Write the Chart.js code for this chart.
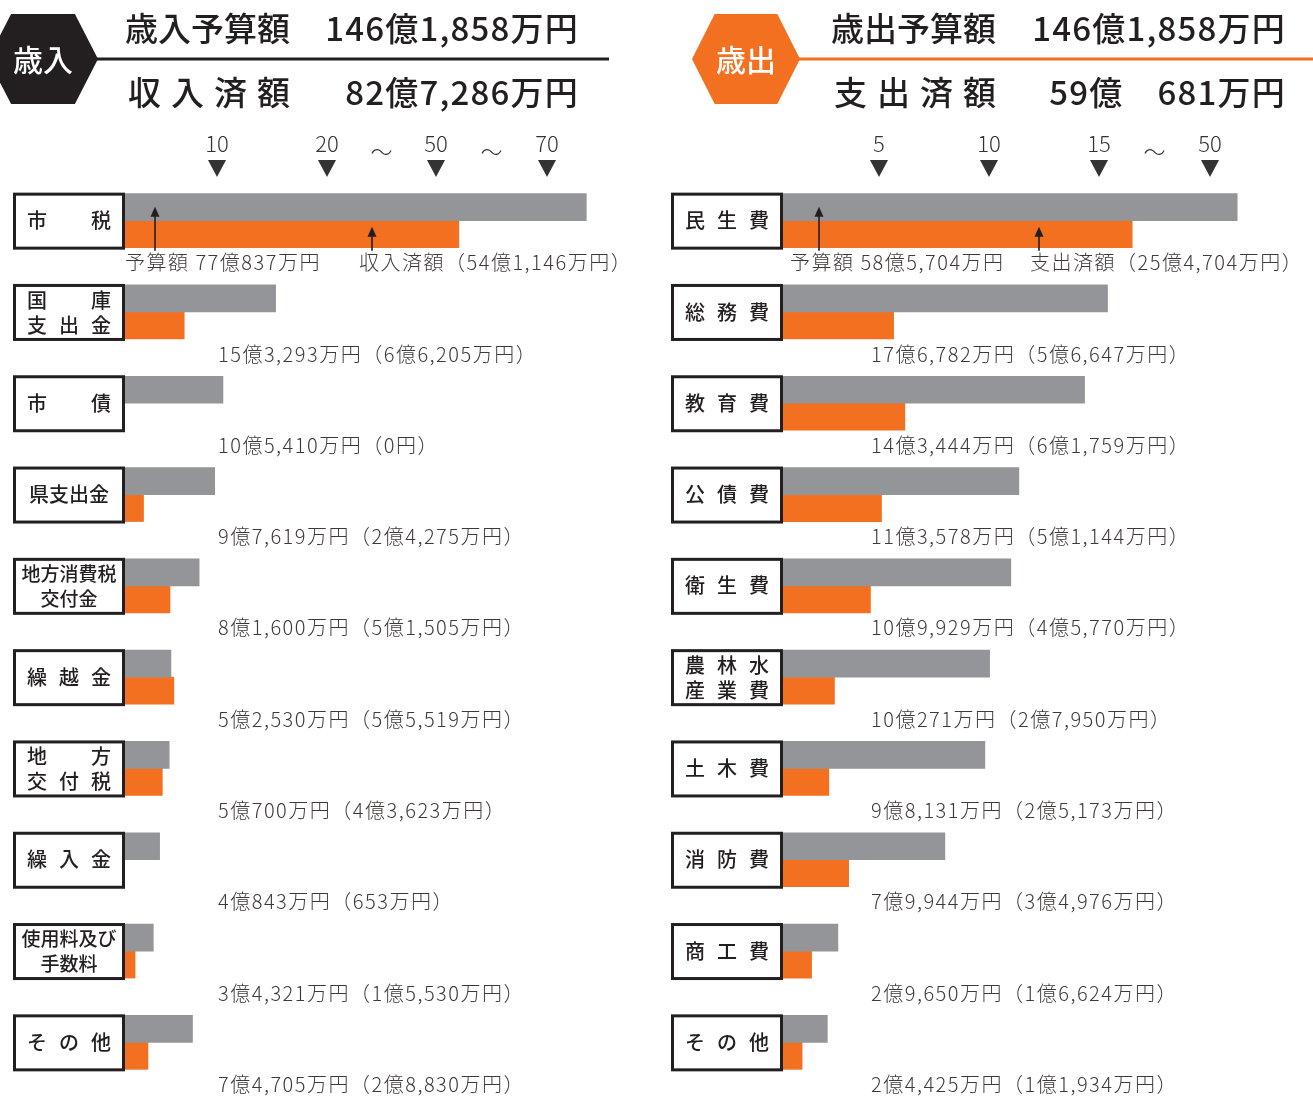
<!DOCTYPE html>
<html lang="ja">
<head>
<meta charset="utf-8">
<script src="https://cdn.jsdelivr.net/npm/chart.js@4.4.1/dist/chart.umd.min.js"></script>
<style>
  body { margin: 0; background: #fff; }
  #wrap { position: relative; width: 1313px; height: 1099px; overflow: hidden; }
  canvas { position: absolute; top: 0; }
</style>
</head>
<body>
<div id="wrap">
  <canvas id="revChart" width="656" height="1099" style="left:0"></canvas>
  <canvas id="expChart" width="655" height="1099" style="left:658px"></canvas>
</div>
<script>
// 金額は万円単位
const revCategories = ["市税", "国庫\n支出金", "市債", "県支出金", "地方消費税\n交付金", "繰越金", "地方\n交付税", "繰入金", "使用料及び\n手数料", "その他"];
const revBudget = [770837, 153293, 105410, 97619, 81600, 52530, 50700, 40843, 34321, 74705];
const revDone = [541146, 66205, 0, 24275, 51505, 55519, 43623, 653, 15530, 28830];
const revTicks = [100000, 200000, 500000, 700000];
const revTickLabels = ["10", "20", "50", "70"];
const revTotals = [1461858, 827286];

const expCategories = ["民生費", "総務費", "教育費", "公債費", "衛生費", "農林水\n産業費", "土木費", "消防費", "商工費", "その他"];
const expBudget = [585704, 176782, 143444, 113578, 109929, 100271, 98131, 79944, 29650, 24425];
const expDone = [254704, 56647, 61759, 51144, 45770, 27950, 25173, 34976, 16624, 11934];
const expTicks = [50000, 100000, 150000, 500000];
const expTickLabels = ["5", "10", "15", "50"];
const expTotals = [1461858, 590681];

const GRAY = "#939598";
const ORANGE = "#f37021";
const INK = "#231f20";
const TEXT = "#3e3a39";
const FONT = '"Noto Sans CJK JP", "Noto Sans", sans-serif';

function yen(v) {
  const oku = Math.floor(v / 10000), man = v % 10000;
  if (!oku && !man) return "0円";
  return (oku ? oku + "億" : "") + (man ? man.toLocaleString("en-US") + "万" : "") + "円";
}

function totalText(v) {
  const oku = Math.floor(v / 10000), man = v % 10000;
  const pad = oku && man < 1000 ? "　" : "";
  return oku + "億" + pad + man.toLocaleString("en-US") + "万円";
}

// 途中を省略した横軸
class BrokenScale extends Chart.LinearScale {
  stops() {
    return [[0, ...this.options.breakValues], [this.options.zeroOffset, ...this.options.breakOffsets]];
  }
  getPixelForValue(value) {
    if (value === null || value === undefined || isNaN(value)) return NaN;
    const [vals, offs] = this.stops();
    let i = 1;
    while (i < vals.length - 1 && value > vals[i]) i++;
    const t = (value - vals[i - 1]) / (vals[i] - vals[i - 1]);
    return this.left + offs[i - 1] + t * (offs[i] - offs[i - 1]);
  }
  getValueForPixel(pixel) {
    const [vals, offs] = this.stops();
    const p = pixel - this.left;
    let i = 1;
    while (i < offs.length - 1 && p > offs[i]) i++;
    const t = (p - offs[i - 1]) / (offs[i] - offs[i - 1]);
    return vals[i - 1] + t * (vals[i] - vals[i - 1]);
  }
}
BrokenScale.id = "broken";
BrokenScale.defaults = Chart.LinearScale.defaults;
Chart.register(BrokenScale);

function spreadText(ctx, text, x0, x1, y) {
  const chars = [...text];
  const w = ctx.measureText(chars[0]).width;
  const step = chars.length > 1 ? (x1 - x0 - w) / (chars.length - 1) : 0;
  ctx.textAlign = "center";
  chars.forEach((c, i) => ctx.fillText(c, x0 + w / 2 + i * step, y));
}

function drawBoxLabel(ctx, label, left, right, cy) {
  const lines = label.split("\n");
  const spread = lines.every(l => l.length <= 3);
  ctx.fillStyle = INK;
  ctx.textBaseline = "middle";
  const ys = lines.length === 1 ? [cy] : [cy - 12, cy + 13];
  lines.forEach((line, k) => {
    if (spread) {
      ctx.font = "500 20px " + FONT;
      spreadText(ctx, line, left + 14, right - 14, ys[k]);
    } else {
      ctx.font = "500 " + (lines.length === 1 ? 20 : 19) + "px " + FONT;
      ctx.textAlign = "center";
      ctx.fillText(line, (left + right) / 2, ys[k]);
    }
  });
}

function arrowUp(ctx, x, yTop, yBottom) {
  ctx.strokeStyle = INK;
  ctx.fillStyle = INK;
  ctx.lineWidth = 1.6;
  ctx.beginPath();
  ctx.moveTo(x, yBottom);
  ctx.lineTo(x, yTop + 6);
  ctx.stroke();
  ctx.beginPath();
  ctx.moveTo(x, yTop);
  ctx.lineTo(x - 4.5, yTop + 10);
  ctx.lineTo(x + 4.5, yTop + 10);
  ctx.closePath();
  ctx.fill();
}

function panelPlugin(p) {
  return {
    id: "panel_" + p.canvas,
    afterDraw(chart) {
      const ctx = chart.ctx, xs = chart.scales.x, ys = chart.scales.y, area = chart.chartArea;
      ctx.save();

      // 見出し
      const cy = 59, hh = 45, inset = (p.hexRight - p.hexLeft) * 0.21;
      ctx.fillStyle = p.color;
      ctx.beginPath();
      ctx.moveTo(p.hexLeft, cy);
      ctx.lineTo(p.hexLeft + inset, cy - hh);
      ctx.lineTo(p.hexRight - inset, cy - hh);
      ctx.lineTo(p.hexRight, cy);
      ctx.lineTo(p.hexRight - inset, cy + hh);
      ctx.lineTo(p.hexLeft + inset, cy + hh);
      ctx.closePath();
      ctx.fill();
      ctx.fillRect(p.hexRight - 2, cy - 1.5, p.lineEnd - p.hexRight + 2, 3);
      ctx.fillStyle = "#fff";
      ctx.font = "500 30px " + FONT;
      ctx.textAlign = "center";
      ctx.textBaseline = "middle";
      ctx.fillText(p.badge, (p.hexLeft + p.hexRight) / 2, cy + 1);

      ctx.fillStyle = INK;
      ctx.font = "500 33px " + FONT;
      ctx.textAlign = "left";
      ctx.fillText(p.titles[0], p.textLeft, 28);
      spreadText(ctx, p.titles[1], p.textLeft + 3, p.textLeft + 165, 92);
      ctx.textAlign = "right";
      ctx.letterSpacing = "1.2px";
      ctx.fillText(totalText(p.totals[0]), p.textRight + 1, 28);
      ctx.fillText(totalText(p.totals[1]), p.textRight + 1, 92);
      ctx.letterSpacing = "0px";

      // 目盛り
      ctx.fillStyle = "#333";
      ctx.font = "300 22px " + FONT;
      ctx.textAlign = "center";
      p.ticks.forEach((v, i) => {
        const px = xs.getPixelForValue(v);
        ctx.fillText(p.tickLabels[i], px, 144);
        ctx.beginPath();
        ctx.moveTo(px - 9, 160);
        ctx.lineTo(px + 9, 160);
        ctx.lineTo(px, 177);
        ctx.closePath();
        ctx.fill();
        if (i > 0 && v - p.ticks[i - 1] > p.ticks[0]) {
          const mid = (px + xs.getPixelForValue(p.ticks[i - 1])) / 2;
          ctx.fillText("～", mid, 152);
        }
      });

      // 項目の枠と金額
      chart.data.labels.forEach((label, i) => {
        const rc = ys.getPixelForValue(i);
        const left = area.left - 112;
        ctx.fillStyle = "#fff";
        ctx.fillRect(left, rc - 28, 112, 57);
        ctx.strokeStyle = INK;
        ctx.lineWidth = 3;
        ctx.strokeRect(left + 1.5, rc - 26.5, 109, 54);
        drawBoxLabel(ctx, label, left, area.left, rc);

        ctx.fillStyle = TEXT;
        ctx.font = "300 20px " + FONT;
        ctx.textAlign = "left";
        ctx.textBaseline = "middle";
        ctx.letterSpacing = "1.5px";
        if (i === 0) {
          const f = p.firstRow;
          ctx.fillText("予算額 " + yen(p.budget[0]), area.left + f.budgetX, rc + 42);
          ctx.fillText(p.doneWord + "（" + yen(p.done[0]) + "）", area.left + f.doneX, rc + 42);
          arrowUp(ctx, area.left + f.arrow1, rc - 14, rc + 30);
          arrowUp(ctx, area.left + f.arrow2, rc + 6, rc + 30);
        } else {
          ctx.fillText(yen(p.budget[i]) + "（" + yen(p.done[i]) + "）", area.left + p.valueX, rc + 42);
        }
        ctx.letterSpacing = "0px";
      });
      ctx.restore();
    }
  };
}

const panels = [
  {
    canvas: "revChart", badge: "歳入", color: INK,
    hexLeft: -12, hexRight: 98, lineEnd: 609, textLeft: 125, textRight: 578,
    titles: ["歳入予算額", "収入済額"], totals: revTotals, doneWord: "収入済額",
    categories: revCategories, budget: revBudget, done: revDone,
    ticks: revTicks, tickLabels: revTickLabels, tickOffsets: [92, 202, 311, 422],
    firstRow: { budgetX: 0, doneX: 234, arrow1: 30, arrow2: 247 }, valueX: 93
  },
  {
    canvas: "expChart", badge: "歳出", color: ORANGE,
    hexLeft: 34, hexRight: 142, lineEnd: 655, textLeft: 173, textRight: 627,
    titles: ["歳出予算額", "支出済額"], totals: expTotals, doneWord: "支出済額",
    categories: expCategories, budget: expBudget, done: expDone,
    ticks: expTicks, tickLabels: expTickLabels, tickOffsets: [96, 206, 316, 427],
    firstRow: { budgetX: 7, doneX: 247, arrow1: 36, arrow2: 256 }, valueX: 88
  }
];

panels.forEach(p => {
  new Chart(document.getElementById(p.canvas), {
    type: "bar",
    data: {
      labels: p.categories,
      datasets: [
        { label: "予算額", data: p.budget, backgroundColor: GRAY, barThickness: 27 },
        { label: p.doneWord, data: p.done, backgroundColor: ORANGE, barThickness: 27 }
      ]
    },
    options: {
      indexAxis: "y",
      responsive: false,
      animation: false,
      layout: { padding: { left: 125, right: 10, top: 175, bottom: 11 } },
      scales: {
        x: {
          type: "broken", min: 0, max: p.ticks[p.ticks.length - 1] * 1.2, display: false,
          zeroOffset: -5, breakValues: p.ticks, breakOffsets: p.tickOffsets
        },
        y: { display: false }
      },
      plugins: { legend: { display: false }, tooltip: { enabled: false } }
    },
    plugins: [panelPlugin(p)]
  });
});
</script>
</body>
</html>
